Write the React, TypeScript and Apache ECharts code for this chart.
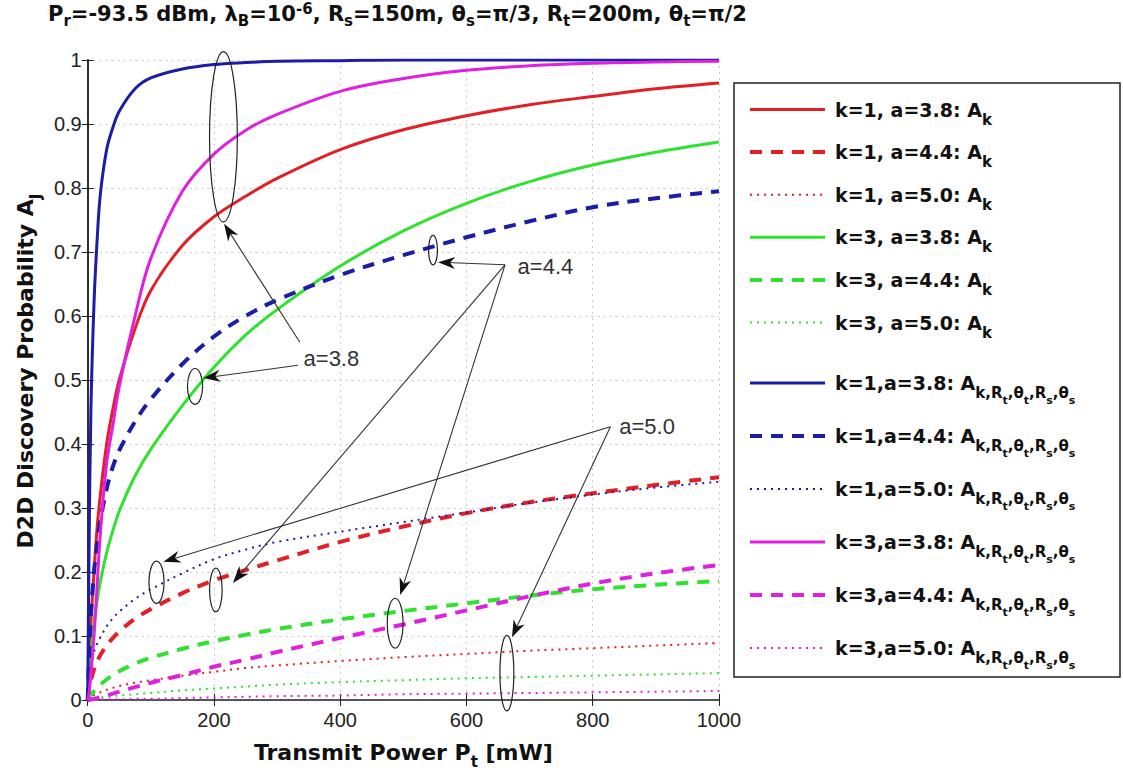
import React, { useEffect, useRef } from "react";
import * as echarts from "echarts";

// ---------------- data ----------------
const powerMw = [0, 2, 5, 10, 15, 20, 30, 40, 50, 75, 100, 150, 200, 250, 300, 400, 500, 600, 700, 800, 900, 1000];

const k1a38 = [0, 0.05, 0.12, 0.2, 0.27, 0.32, 0.4, 0.455, 0.5, 0.58, 0.64, 0.71, 0.755, 0.787, 0.815, 0.86, 0.891, 0.913, 0.93, 0.943, 0.955, 0.964];
const k1a44 = [0, 0.015, 0.03, 0.048, 0.06, 0.07, 0.085, 0.097, 0.107, 0.127, 0.142, 0.167, 0.187, 0.203, 0.218, 0.247, 0.271, 0.292, 0.309, 0.323, 0.336, 0.348];
const k1a50 = [0, 0.002, 0.005, 0.008, 0.01, 0.012, 0.016, 0.019, 0.022, 0.027, 0.031, 0.038, 0.044, 0.05, 0.054, 0.061, 0.067, 0.072, 0.077, 0.081, 0.085, 0.089];
const k3a38 = [0, 0.03, 0.07, 0.12, 0.155, 0.185, 0.23, 0.265, 0.295, 0.35, 0.392, 0.46, 0.52, 0.57, 0.61, 0.678, 0.733, 0.776, 0.81, 0.836, 0.856, 0.872];
const k3a44 = [0, 0.004, 0.008, 0.014, 0.019, 0.024, 0.032, 0.039, 0.045, 0.057, 0.066, 0.08, 0.092, 0.102, 0.111, 0.126, 0.139, 0.151, 0.163, 0.173, 0.18, 0.186];
const k3a50 = [0, 0.001, 0.001, 0.002, 0.003, 0.004, 0.005, 0.006, 0.007, 0.009, 0.011, 0.015, 0.018, 0.021, 0.024, 0.028, 0.031, 0.034, 0.036, 0.038, 0.04, 0.042];
const k1a38R = [0, 0.22, 0.45, 0.62, 0.72, 0.79, 0.86, 0.895, 0.92, 0.955, 0.972, 0.986, 0.993, 0.996, 0.998, 0.999, 1, 1, 1, 1, 1, 1];
const k1a44R = [0, 0.06, 0.13, 0.2, 0.245, 0.28, 0.33, 0.365, 0.39, 0.435, 0.47, 0.525, 0.568, 0.6, 0.625, 0.664, 0.695, 0.723, 0.748, 0.77, 0.784, 0.795];
const k1a50R = [0, 0.03, 0.05, 0.075, 0.088, 0.098, 0.115, 0.128, 0.138, 0.158, 0.173, 0.198, 0.22, 0.235, 0.247, 0.263, 0.278, 0.293, 0.308, 0.321, 0.332, 0.341];
const k3a38R = [0, 0.01, 0.04, 0.1, 0.18, 0.26, 0.37, 0.43, 0.49, 0.6, 0.69, 0.795, 0.853, 0.89, 0.915, 0.951, 0.971, 0.984, 0.991, 0.995, 0.997, 0.998];
const k3a44R = [0, 0, 0.001, 0.002, 0.003, 0.005, 0.007, 0.01, 0.013, 0.02, 0.027, 0.039, 0.052, 0.063, 0.075, 0.097, 0.118, 0.14, 0.162, 0.182, 0.198, 0.211];
const k3a50R = [0, 0, 0, 0, 0, 0.001, 0.001, 0.001, 0.001, 0.002, 0.002, 0.003, 0.004, 0.005, 0.006, 0.007, 0.009, 0.01, 0.011, 0.012, 0.013, 0.014];

const seriesNames = [
  "k=1, a=3.8: Ak", "k=1, a=4.4: Ak", "k=1, a=5.0: Ak",
  "k=3, a=3.8: Ak", "k=3, a=4.4: Ak", "k=3, a=5.0: Ak",
  "k=1,a=3.8: AkRtRs", "k=1,a=4.4: AkRtRs", "k=1,a=5.0: AkRtRs",
  "k=3,a=3.8: AkRtRs", "k=3,a=4.4: AkRtRs", "k=3,a=5.0: AkRtRs",
];
const seriesValues = [k1a38, k1a44, k1a50, k3a38, k3a44, k3a50, k1a38R, k1a44R, k1a50R, k3a38R, k3a44R, k3a50R];
const seriesColors = ["red", "red", "red", "green", "green", "green", "blue", "blue", "blue", "magenta", "magenta", "magenta"];
const seriesDash = ["solid", "dashed", "dotted", "solid", "dashed", "dotted", "solid", "dashed", "dotted", "solid", "dashed", "dotted"];

const xTicks = { min: 0, max: 1000, step: 200 };
const yTicks = { min: 0, max: 1, step: 0.1 };

// annotations in data coordinates
const ellipses = [
  { x: 215, y: 0.88, rx: 22, ry: 0.133 },
  { x: 170, y: 0.49, rx: 12, ry: 0.028 },
  { x: 547, y: 0.703, rx: 7, ry: 0.023 },
  { x: 203, y: 0.172, rx: 10, ry: 0.034 },
  { x: 109, y: 0.184, rx: 12, ry: 0.033 },
  { x: 487, y: 0.12, rx: 12.5, ry: 0.039 },
  { x: 664, y: 0.042, rx: 11, ry: 0.059 },
];
const arrows = [
  { from: [336, 0.559], to: [216, 0.744] },
  { from: [333, 0.523], to: [183, 0.503] },
  { from: [661, 0.68], to: [555, 0.684] },
  { from: [661, 0.68], to: [230, 0.183] },
  { from: [661, 0.68], to: [495, 0.164] },
  { from: [828, 0.427], to: [120, 0.216] },
  { from: [828, 0.427], to: [672, 0.098] },
];
const notes = [
  { x: 386, y: 0.534, text: "a=3.8" },
  { x: 725, y: 0.677, text: "a=4.4" },
  { x: 886, y: 0.427, text: "a=5.0" },
];

// ---------------- styles ----------------
const COLORS: Record<string, string> = {
  red: "#e41e26",
  green: "#2fe22f",
  blue: "#1c1ca8",
  magenta: "#e01fe0",
};
const DASH: Record<string, any> = {
  solid: { width: 3, type: "solid" },
  dashed: { width: 4, type: [12, 9] },
  dotted: { width: 2, type: [2, 5] },
};
const BOLD = "DejaVu Sans";
const REG = "Liberation Sans";

const richBase = {
  m: { fontFamily: BOLD, fontWeight: "bold", fontSize: 21, lineHeight: 24, color: "#111" },
  ts: { fontFamily: BOLD, fontWeight: "bold", fontSize: 15, lineHeight: 15, color: "#111", padding: [14, 0, 0, 0] },
  p: { fontFamily: BOLD, fontWeight: "bold", fontSize: 15, lineHeight: 15, color: "#111", padding: [0, 0, 10, 0] },
  lm: { fontFamily: BOLD, fontWeight: "bold", fontSize: 19, lineHeight: 24, color: "#111", padding: [0, 0, 0, 5] },
  am: { fontFamily: BOLD, fontWeight: "bold", fontSize: 22, lineHeight: 26, color: "#111" },
  s: { fontFamily: BOLD, fontWeight: "bold", fontSize: 15, lineHeight: 15, color: "#111", padding: [20, 0, 0, 0] },
  ss: { fontFamily: BOLD, fontWeight: "bold", fontSize: 11, lineHeight: 11, color: "#111", padding: [34, 0, 0, 0] },
};

function legendText(name: string): string {
  const main = name.split(": ")[0];
  if (name.endsWith("AkRtRs")) {
    return `{lm|${main}: A}{s|k,R}{ss|t}{s|,θ}{ss|t}{s|,R}{ss|s}{s|,θ}{ss|s}`;
  }
  return `{lm|${main}: A}{s|k}`;
}

export default function App() {
  const ref = useRef<HTMLDivElement>(null);
  useEffect(() => {
    if (!ref.current) return;
    const chart = echarts.init(ref.current, null, { renderer: "svg" });

    const series = seriesNames.map((name, i) => ({
      name,
      type: "line",
      xAxisIndex: 0,
      yAxisIndex: 0,
      data: powerMw.map((x, j) => [x, seriesValues[i][j]]),
      showSymbol: false,
      symbol: "none",
      smooth: 0.35,
      color: COLORS[seriesColors[i]],
      lineStyle: { color: COLORS[seriesColors[i]], ...DASH[seriesDash[i]] },
      z: 3,
    }));

    const legendCommon = {
      orient: "vertical",
      left: 748,
      padding: 0,
      itemWidth: 75,
      itemHeight: 14,
      selectedMode: false,
      z: 6,
      formatter: legendText,
      lineStyle: { width: "inherit" },
      itemStyle: { opacity: 0, borderWidth: 0 },
      textStyle: { rich: richBase },
    };

    const option: any = {
      animation: false,
      backgroundColor: "#fff",
      title: {
        text:
          "{m|P}{ts|r}{m|=-93.5 dBm, λ}{ts|B}{m|=10}{p|-6}{m|, R}{ts|s}{m|=150m, θ}{ts|s}{m|=π/3, R}{ts|t}{m|=200m, θ}{ts|t}{m|=π/2}",
        left: 48,
        top: 2,
        padding: 0,
        textStyle: { rich: richBase },
      },
      grid: { left: 80, top: 60, width: 639, height: 640 },
      xAxis: [
        {
          type: "value",
          position: "bottom",
          min: xTicks.min,
          max: xTicks.max,
          interval: xTicks.step,
          axisLine: { show: true, lineStyle: { color: "#222", width: 1.5 } },
          axisTick: { show: true, inside: true, length: 6, lineStyle: { color: "#222" } },
          axisLabel: { fontFamily: REG, fontSize: 20, color: "#222", margin: 10, formatter: (v: number) => String(v) },
          splitLine: { show: true, lineStyle: { color: "#cdcdcd", type: [2, 4], width: 1 } },
          name: "{am|Transmit Power P}{s|t}{am| [mW]}",
          nameLocation: "middle",
          nameGap: 27,
          nameTextStyle: { rich: richBase },
        },
        {
          type: "value",
          position: "top",
          min: xTicks.min,
          max: xTicks.max,
          interval: xTicks.step,
          axisLine: { show: true, lineStyle: { color: "#555", width: 2 } },
          axisTick: { show: true, inside: true, length: 6, lineStyle: { color: "#222" } },
          axisLabel: { show: false },
          splitLine: { show: false },
        },
      ],
      yAxis: [
        {
          type: "value",
          position: "left",
          min: yTicks.min,
          max: yTicks.max,
          interval: yTicks.step,
          axisLine: { show: true, lineStyle: { color: "#555", width: 2 } },
          axisTick: { show: true, inside: true, length: 6, lineStyle: { color: "#222" } },
          axisLabel: {
            fontFamily: REG,
            fontSize: 20,
            color: "#222",
            margin: 6,
            formatter: (v: number) => (v === 0 ? "0" : v === 1 ? "1" : v.toFixed(1)),
          },
          splitLine: { show: true, lineStyle: { color: "#cdcdcd", type: [2, 4], width: 1 } },
          name: "{am|D2D Discovery Probability A}{s|J}",
          nameLocation: "middle",
          nameGap: 45,
          nameTextStyle: { rich: richBase, padding: [0, 0, 0, 18] },
        },
        {
          type: "value",
          position: "right",
          min: yTicks.min,
          max: yTicks.max,
          interval: yTicks.step,
          axisLine: { show: true, lineStyle: { color: "#222", width: 1.5 } },
          axisTick: { show: true, inside: true, length: 6, lineStyle: { color: "#222" } },
          axisLabel: { show: false },
          splitLine: { show: false },
        },
      ],
      legend: [
        { ...legendCommon, data: seriesNames.slice(0, 6), top: 92, itemGap: 7.6 },
        { ...legendCommon, data: seriesNames.slice(6), top: 360.5, itemGap: 8 },
      ],
      graphic: [
        {
          type: "rect",
          id: "legendBox",
          shape: { x: 734, y: 83, width: 386, height: 594 },
          style: { fill: "#fff", stroke: "#222", lineWidth: 1.5 },
          z: 1,
        },
      ],
      series,
    };
    chart.setOption(option);

    // annotations anchored in data coordinates
    const px = (p: number[]) => chart.convertToPixel({ gridIndex: 0 }, p) as number[];
    const g: any[] = [];
    ellipses.forEach((e, i) => {
      const c = px([e.x, e.y]);
      const r = px([e.x + e.rx, e.y + e.ry]);
      g.push({
        type: "ellipse",
        id: "ell" + i,
        shape: { cx: c[0], cy: c[1], rx: Math.abs(r[0] - c[0]), ry: Math.abs(r[1] - c[1]) },
        style: { fill: "none", stroke: "#222", lineWidth: 1.2 },
        z: 100,
      });
    });
    arrows.forEach((a, i) => {
      const f = px(a.from);
      const t = px(a.to);
      const dx = t[0] - f[0];
      const dy = t[1] - f[1];
      const L = Math.hypot(dx, dy);
      const ux = dx / L;
      const uy = dy / L;
      const hl = 17;
      const hw = 6;
      const bx = t[0] - ux * hl;
      const by = t[1] - uy * hl;
      g.push({
        type: "line",
        id: "arl" + i,
        shape: { x1: f[0], y1: f[1], x2: t[0] - ux * 8, y2: t[1] - uy * 8 },
        style: { stroke: "#333", lineWidth: 1.1 },
        z: 100,
      });
      g.push({
        type: "polygon",
        id: "arh" + i,
        shape: {
          points: [
            [t[0], t[1]],
            [bx - uy * hw, by + ux * hw],
            [t[0] - ux * hl * 0.7, t[1] - uy * hl * 0.7],
            [bx + uy * hw, by - ux * hw],
          ],
        },
        style: { fill: "#111" },
        z: 100,
      });
    });
    notes.forEach((n, i) => {
      const c = px([n.x, n.y]);
      g.push({
        type: "text",
        id: "note" + i,
        x: c[0],
        y: c[1],
        style: {
          text: n.text,
          fontFamily: REG,
          fontSize: 22,
          fill: "#333",
          align: "center",
          verticalAlign: "middle",
        },
        z: 100,
      });
    });
    chart.setOption({ graphic: g });

    return () => chart.dispose();
  }, []);
  return (
    <div
      ref={ref}
      style={{ position: "absolute", left: 0, top: 0, width: 1123, height: 775, background: "#fff" }}
    />
  );
}
